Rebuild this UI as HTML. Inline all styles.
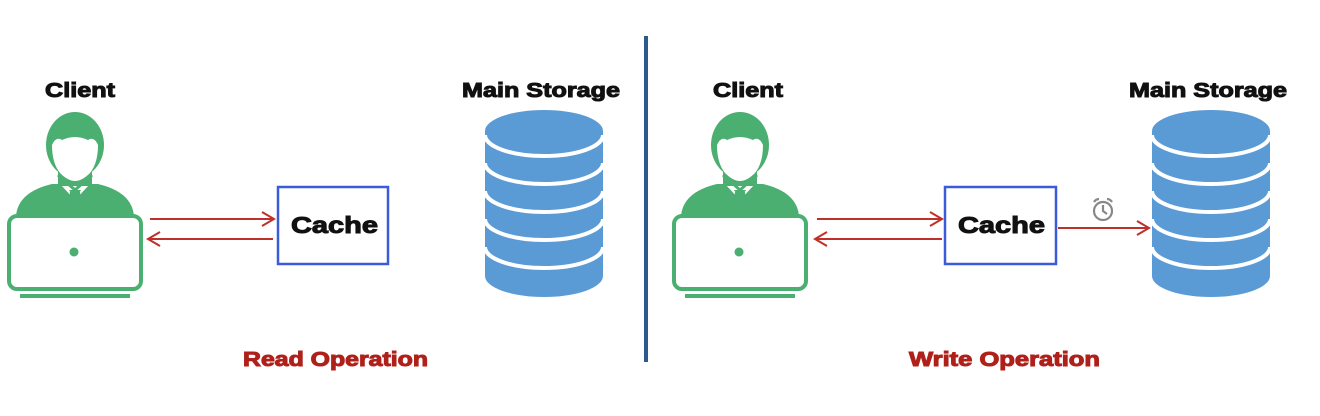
<!DOCTYPE html>
<html><head><meta charset="utf-8"><style>
html,body{margin:0;padding:0;background:#fff;width:1320px;height:416px;overflow:hidden}
svg{display:block}
text{font-family:"Liberation Sans",Arial,sans-serif;font-weight:bold}
</style></head><body>
<svg width="1320" height="416" viewBox="0 0 1320 416" xmlns="http://www.w3.org/2000/svg">
<defs>
<g id="client">
  <path d="M16,216 Q18,192 52,184 L98,184 Q132,192 134,216 Z" fill="#4caf72"/>
  <path d="M60,184 L75,200 L90,184 Z" fill="#fff"/>
  <path d="M70,192 L80,192 L82,216 L68,216 Z" fill="#4caf72"/>
  <path d="M69,190 L75,199 L81,190 Z" fill="#4caf72"/>
  <ellipse cx="75" cy="145" rx="29" ry="33" fill="#4caf72"/>
  <rect x="58" y="170" width="34" height="16" fill="#4caf72"/>
  <path d="M52,145 Q56,136 62,140 Q75,134 88,140 Q94,136 98,145 Q98,163 90,173 Q82,181 75,181 Q68,181 60,173 Q52,163 52,145 Z" fill="#fff"/>
  <path d="M58,175 L75,190 L92,175" fill="none" stroke="#4caf72" stroke-width="3"/>
  <rect x="9" y="216" width="132" height="73" rx="8" fill="#fff" stroke="#4caf72" stroke-width="4"/>
  <circle cx="74" cy="252" r="4.5" fill="#4caf72"/>
  <line x1="20" y1="296" x2="130" y2="296" stroke="#4caf72" stroke-width="4"/>
</g>
<g id="db">
  <path d="M0,21 A59,21 0 0 1 118,21 L118,166 A59,21 0 0 1 0,166 Z" fill="#5b9bd5"/>
  <g fill="none" stroke="#fff" stroke-width="4">
    <path d="M0,25 A59,21 0 0 0 118,25"/>
    <path d="M0,53 A59,21 0 0 0 118,53"/>
    <path d="M0,81 A59,21 0 0 0 118,81"/>
    <path d="M0,109 A59,21 0 0 0 118,109"/>
    <path d="M0,137 A59,21 0 0 0 118,137"/>
  </g>
</g>
</defs>

<!-- LEFT -->
<text x="45" y="97" font-size="20" textLength="70" lengthAdjust="spacingAndGlyphs" fill="#111" stroke="#111" stroke-width="1">Client</text>
<use href="#client" x="0" y="0"/>
<g stroke="#c0302a" stroke-width="2" fill="none">
  <line x1="150" y1="219" x2="274" y2="219"/><polyline points="262,212 274,219 262,226"/>
  <line x1="148" y1="239" x2="273" y2="239"/><polyline points="160,232 148,239 160,246"/>
</g>
<rect x="278" y="187" width="110" height="77" fill="#fff" stroke="#3b5bdb" stroke-width="2.5"/>
<text x="291" y="233" font-size="23" textLength="87" lengthAdjust="spacingAndGlyphs" fill="#111" stroke="#111" stroke-width="1">Cache</text>
<text x="462" y="97" font-size="20" textLength="158" lengthAdjust="spacingAndGlyphs" fill="#111" stroke="#111" stroke-width="1">Main Storage</text>
<use href="#db" x="485" y="110"/>
<text x="243" y="366" font-size="20" textLength="185" lengthAdjust="spacingAndGlyphs" fill="#b0201a" stroke="#b0201a" stroke-width="1">Read Operation</text>

<line x1="646" y1="36" x2="646" y2="362" stroke="#2c5a8c" stroke-width="4"/>

<!-- RIGHT -->
<text x="713" y="97" font-size="20" textLength="70" lengthAdjust="spacingAndGlyphs" fill="#111" stroke="#111" stroke-width="1">Client</text>
<use href="#client" x="665" y="0"/>
<g stroke="#c0302a" stroke-width="2" fill="none">
  <line x1="817" y1="219" x2="942" y2="219"/><polyline points="930,212 942,219 930,226"/>
  <line x1="815" y1="239" x2="942" y2="239"/><polyline points="827,232 815,239 827,246"/>
  <line x1="1058" y1="228" x2="1149" y2="228"/><polyline points="1137,221 1149,228 1137,235"/>
</g>
<rect x="945" y="187" width="111" height="77" fill="#fff" stroke="#3b5bdb" stroke-width="2.5"/>
<text x="958" y="233" font-size="23" textLength="87" lengthAdjust="spacingAndGlyphs" fill="#111" stroke="#111" stroke-width="1">Cache</text>
<g stroke="#888" stroke-width="2.2" fill="none">
  <circle cx="1103" cy="211" r="9"/>
  <polyline points="1103,205 1103,211 1107,214"/>
  <path d="M1094,202 Q1096,199 1099,199"/><path d="M1112,202 Q1110,199 1107,199"/>
</g>
<text x="1129" y="97" font-size="20" textLength="158" lengthAdjust="spacingAndGlyphs" fill="#111" stroke="#111" stroke-width="1">Main Storage</text>
<use href="#db" x="1152" y="110"/>
<text x="909" y="366" font-size="20" textLength="191" lengthAdjust="spacingAndGlyphs" fill="#b0201a" stroke="#b0201a" stroke-width="1">Write Operation</text>
</svg>
</body></html>
